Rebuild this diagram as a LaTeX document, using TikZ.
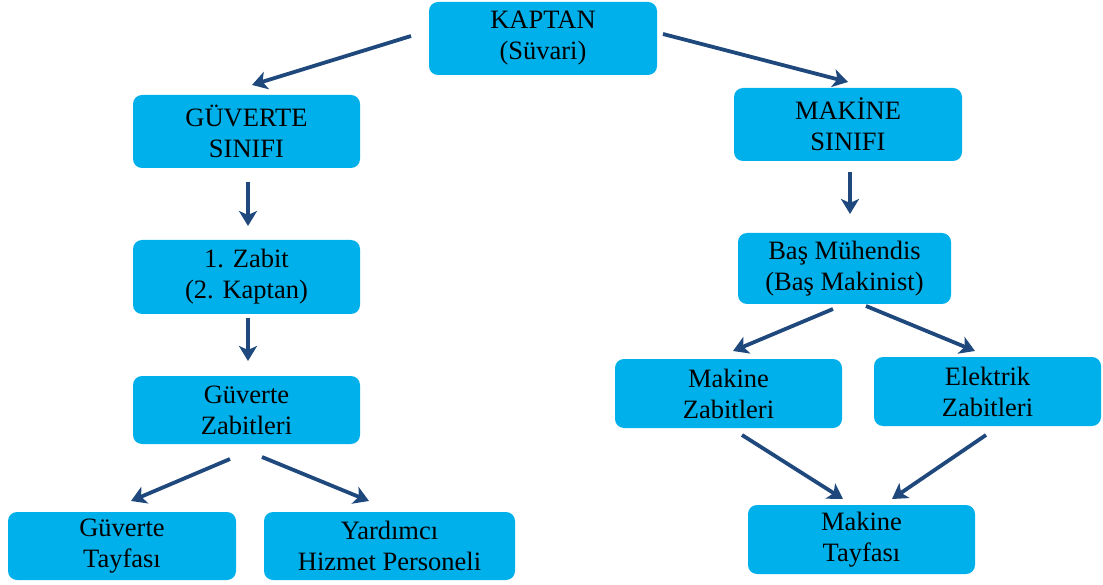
\documentclass[tikz,border=0pt]{standalone}
\usepackage{fontspec}
\setmainfont{Liberation Serif}
\usetikzlibrary{arrows.meta, positioning}
\definecolor{boxblue}{HTML}{00B0EA}
\definecolor{arrowblue}{HTML}{1F497D}

\begin{document}
\begin{tikzpicture}[% styles used in image code
         x = 1pt, y = -1pt,
         > = {Stealth[length=15pt, width=18pt, inset=4pt]},
box/.style = {fill=boxblue, rounded corners=9pt,
              minimum width=227pt, minimum height=73pt,
              inner sep=0pt, outer sep=0pt, align=center,
              font=\fontsize{26.5}{31}\selectfont},
link/.style = {->, draw=arrowblue, line width=3.8pt}
                        ]
	\useasboundingbox (0,0) rectangle (1103,585);

	% top
	\node[box, minimum width=228pt] (kaptan) at (543,38.5) {KAPTAN\\(Süvari)};

	% deck side
	\node[box] (guverte) at (246.5,131.5) {GÜVERTE\\SINIFI};
	\node[box, minimum height=74pt] (zabit) at (246.5,277) {1. Zabit\\(2. Kaptan)};
	\node[box, minimum height=68pt] (gzabit) at (246.5,410) {Güverte\\Zabitleri};
	\node[box, minimum width=228pt, minimum height=68pt] (gtayfa) at (122,546) {Güverte\\Tayfası};
	\node[box, minimum width=251pt, minimum height=68pt] (yardimci) at (389.5,546) {Yardımcı\\Hizmet Personeli};

	% engine side
	\node[box, minimum width=228pt] (makine) at (848,124.5) {MAKİNE\\SINIFI};
	\node[box, minimum width=213pt, minimum height=71pt] (bas) at (844.5,268.5) {Baş Mühendis\\(Baş Makinist)};
	\node[box, minimum height=69pt] (mzabit) at (728.5,393.5) {Makine\\Zabitleri};
	\node[box, minimum height=69pt] (ezabit) at (987.5,391.5) {Elektrik\\Zabitleri};
	\node[box, minimum height=69pt] (mtayfa) at (861.5,539.5) {Makine\\Tayfası};

	% arrows
	\draw[link] ([shift={(-18,-2.5)}]kaptan.west) -- ([shift={(5.5,-10)}]guverte.north);
	\draw[link] ([shift={(6,-4.5)}]kaptan.east) -- ([shift={(0,-6)}]makine.north);

	\draw[link] ([shift={(1.5,14)}]guverte.south) -- ([shift={(1.5,-14)}]zabit.north);
	\draw[link] ([shift={(1.5,4)}]zabit.south) -- ([shift={(1.5,-15)}]gzabit.north);
	\draw[link] ([shift={(-16.5,15)}]gzabit.south) -- ([shift={(9,-11)}]gtayfa.north);
	\draw[link] ([shift={(15.5,13)}]gzabit.south) -- ([shift={(-20.5,-11)}]yardimci.north);

	\draw[link] ([shift={(2,11)}]makine.south) -- ([shift={(5.5,-19)}]bas.north);
	\draw[link] ([shift={(-11.5,5)}]bas.south) -- ([shift={(4.5,-8)}]mzabit.north);
	\draw[link] ([shift={(21.5,2)}]bas.south) -- ([shift={(-12.5,-6)}]ezabit.north);
	\draw[link] ([shift={(13.5,7)}]mzabit.south) -- ([shift={(-18.5,-6)}]mtayfa.north);
	\draw[link] ([shift={(-1.5,9)}]ezabit.south) -- ([shift={(30.5,-6)}]mtayfa.north);
\end{tikzpicture}
\end{document}
